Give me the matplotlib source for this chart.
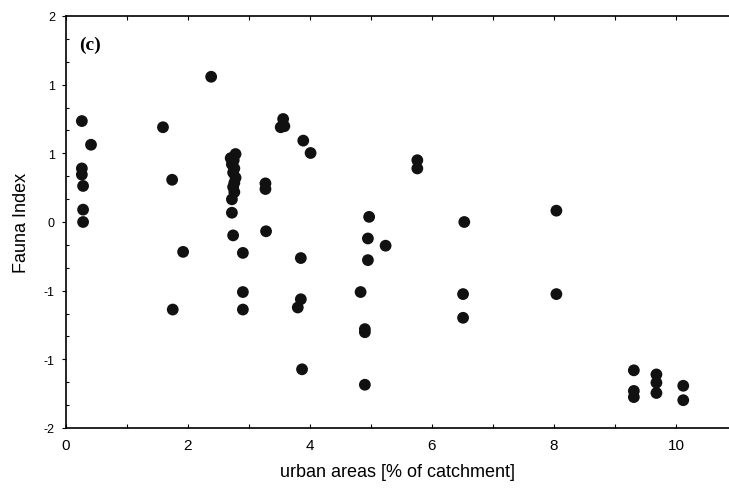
import numpy as np
import matplotlib.pyplot as plt
from matplotlib.ticker import FixedLocator, MultipleLocator

# urban areas [% of catchment] vs Fauna Index
urban = [0.26, 0.41, 0.26, 0.26, 0.28, 0.28, 0.28,
         1.59, 1.74, 1.92, 1.75,
         2.38,
         2.78, 2.70, 2.75, 2.72, 2.76, 2.74, 2.78, 2.76, 2.74, 2.76, 2.72, 2.72, 2.74,
         2.90, 2.90, 2.90,
         3.27, 3.27, 3.28,
         3.52, 3.58, 3.56, 3.89, 4.01,
         3.85, 3.85, 3.80, 3.87,
         4.97, 4.95, 5.24, 4.95, 4.83, 4.90, 4.90, 4.90,
         5.76, 5.76,
         6.53, 6.51, 6.51,
         8.04, 8.04,
         9.31, 9.31, 9.31,
         9.68, 9.68, 9.68,
         10.12, 10.12]
fauna = [0.98, 0.75, 0.52, 0.46, 0.35, 0.12, 0.00,
         0.92, 0.41, -0.29, -0.85,
         1.41,
         0.66, 0.62, 0.60, 0.56, 0.52, 0.48, 0.43, 0.38, 0.34, 0.29, 0.22, 0.09, -0.13,
         -0.30, -0.68, -0.85,
         0.375, 0.32, -0.09,
         0.92, 0.93, 1.00, 0.79, 0.67,
         -0.35, -0.75, -0.83, -1.43,
         0.05, -0.16, -0.23, -0.37, -0.68, -1.04, -1.07, -1.58,
         0.60, 0.52,
         0.00, -0.70, -0.93,
         0.11, -0.70,
         -1.44, -1.64, -1.70,
         -1.48, -1.56, -1.66,
         -1.59, -1.73]

x_ticks = [0, 2, 4, 6, 8, 10]
y_ticks = list(np.linspace(-2, 2, 7))
y_ticklabels = ['-2', '-1', '-1', '0', '1', '1', '2']

plt.rcParams['font.family'] = ['Liberation Sans', 'DejaVu Sans']

fig = plt.figure(figsize=(7.29, 4.89), dpi=100)
ax = fig.add_axes([66 / 729, 1 - 429 / 489, 1 - 66 / 729, (429 - 17) / 489])

ax.scatter(urban, fauna, s=72, color='#111111', edgecolors='none', zorder=3)

ax.set_xlim(0, 10.87)
ax.set_ylim(-2, 2)

ax.set_xticks(x_ticks)
ax.set_xticklabels([str(t) for t in x_ticks], fontsize=11)
ax.xaxis.set_minor_locator(MultipleLocator(1))
ax.set_yticks(y_ticks)
ax.set_yticklabels(y_ticklabels, fontsize=9)
ax.yaxis.set_minor_locator(FixedLocator(np.linspace(-2, 2, 19)))

ax.tick_params(axis='x', which='both', direction='in', top=True, length=3, width=0.8, pad=7)
ax.tick_params(axis='y', which='major', direction='out', length=3, width=0.8, pad=5)
ax.tick_params(axis='y', which='minor', direction='in', length=2.5, width=0.8)

ax.spines['right'].set_visible(False)
for side in ['left', 'bottom', 'top']:
    ax.spines[side].set_linewidth(1.2)

ax.set_xlabel('urban areas [% of catchment]', fontsize=13, labelpad=8)
ax.set_ylabel('Fauna Index', fontsize=13, labelpad=10)

ax.text(0.02, 0.93, '(c)', transform=ax.transAxes, fontsize=14, fontweight='bold',
        family=['Liberation Serif', 'DejaVu Serif'], va='center', ha='left')

fig.savefig('out.png', dpi=100)
